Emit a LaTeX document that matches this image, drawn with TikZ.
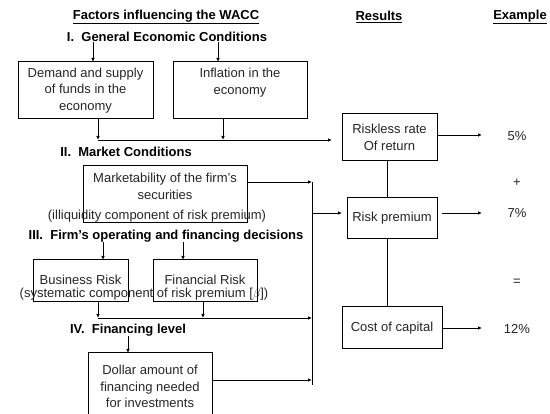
\documentclass[tikz,border=0pt]{standalone}
\usepackage{fontspec}
\setmainfont{Liberation Sans}
\usetikzlibrary{arrows.meta}
\begin{document}
\begin{tikzpicture}[x=1pt,y=-1pt,
  frame/.style={draw, line width=1pt},
  txt/.style={inner sep=0pt, align=center, text=black!85, font=\fontsize{13}{16.5}\selectfont},
  hd/.style={inner sep=0pt, align=center, font=\bfseries\fontsize{13}{16}\selectfont},
  arr/.style={line width=0.9pt, -{Latex[length=4pt,width=3.5pt]}},
  ln/.style={line width=0.9pt}]
\useasboundingbox (0,0) rectangle (550,414);
% headings
\node[hd] (title) at (166,17) {\underline{Factors influencing the WACC}};
\node[hd] (res) at (379,17) {\underline{Results}};
\node[hd] (ex) at (520,17) {\underline{Example}};
\node[hd] (h1) at (167,37) {I.\ \ General Economic Conditions};
\node[hd] (h2) at (126,152) {II.\ \ Market Conditions};
\node[hd] (h3) at (166,236) {III.\ \ Firm's operating and financing decisions};
\node[hd] (h4) at (128,330) {IV.\ \ Financing level};
% boxes
\draw[frame] (18,62) rectangle (153,119);
\node[txt] (dem) at (85.5,90.5) {Demand and supply\\of funds in the\\economy};
\draw[frame] (173,62) rectangle (307,119);
\node[txt] (inf) at (240,82.5) {Inflation in the\\economy};
\draw[frame] (342,114) rectangle (437,161);
\node[txt] (rf) at (389.5,137.5) {Riskless rate\\Of return};
\draw[frame] (83,166) rectangle (247,223);
\node[txt] (mkt) at (165,186.5) {Marketability of the firm's\\securities};
\node[txt] (illiq) at (157,216) {(illiquidity component of risk premium)};
\draw[frame] (347,198) rectangle (437,239);
\node[txt] (rp) at (392,218.5) {Risk premium};
\draw[frame] (33,260) rectangle (128,302);
\node[txt] (br) at (80.5,280) {Business Risk};
\draw[frame] (153,260) rectangle (257,302);
\node[txt] (fr) at (205,280) {Financial Risk};
\node[txt] (sys) at (144,294) {(systematic component of risk premium [$\beta$])};
\draw[frame] (342,307) rectangle (442,349);
\node[txt] (coc) at (392,328) {Cost of capital};
\draw[frame] (88,353) rectangle (212,440);
\node[txt] (dol) at (150,386.5) {Dollar amount of\\financing needed\\for investments};
% example values
\node[txt] (v1) at (517,136) {5\%};
\node[txt] (plus) at (517,183) {+};
\node[txt] (v2) at (517,213) {7\%};
\node[txt] (eq) at (517,282) {=};
\node[txt] (v3) at (517,329) {12\%};
% junction coordinates
\coordinate (j1) at (98,140);
\coordinate (j2) at (223,140);
\coordinate (j3) at (332,140);
\coordinate (m1) at (312,182);
\coordinate (m2) at (312,213);
\coordinate (m3) at (312,318);
\coordinate (m4) at (312,380);
\coordinate (mb) at (312,385);
\coordinate (rpin) at (342,213);
\coordinate (b1) at (98,318);
\coordinate (b2) at (203,318);
% connectors
\draw[arr] (h1.south -| 93,0) -- (93,62);
\draw[arr] (h1.south -| 218,0) -- (218,62);
\draw[arr] (98,119) -- (j1);
\draw[arr] (223,119) -- (j2);
\draw[arr] (j1) -- (j3);
\draw[arr] (437,135) -- (482,135);
\draw[arr] (247,182) -- (m1);
\draw[ln] (m1) -- (mb);
\draw[arr] (m2) -- (rpin);
\draw[arr] (442,213) -- (482,213);
\draw[ln] (387,161) -- (387,198);
\draw[ln] (387,239) -- (387,307);
\draw[arr] (h3.south -| 103,0) -- (103,260);
\draw[arr] (h3.south -| 183,0) -- (183,260);
\draw[arr] (98,302) -- (b1);
\draw[arr] (203,302) -- (b2);
\draw[arr] (b1) -- (m3);
\draw[arr] (h4.south -| 128,0) -- (128,353);
\draw[arr] (212,380) -- (m4);
\draw[arr] (442,328) -- (482,328);
\end{tikzpicture}
\end{document}
